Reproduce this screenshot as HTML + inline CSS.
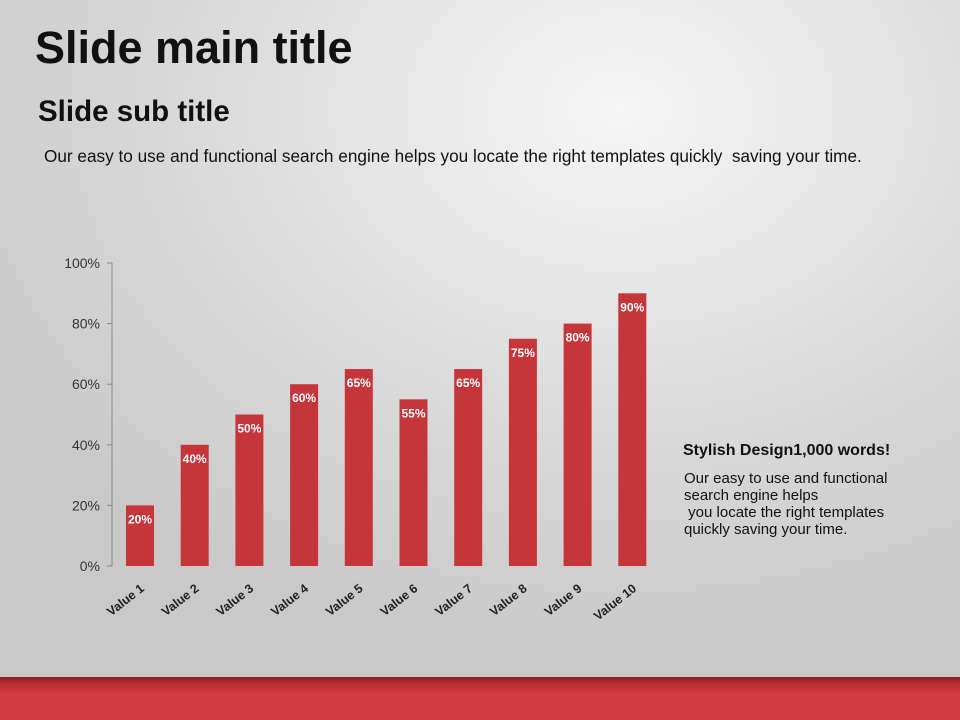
<!DOCTYPE html>
<html><head><meta charset="utf-8"><style>
body{margin:0;width:960px;height:720px;overflow:hidden;font-family:"Liberation Sans",sans-serif;}
#slide{position:relative;width:960px;height:720px;background:radial-gradient(ellipse 720px 540px at 620px 110px,#f6f6f6 0%,#dedede 50%,#c9c9c9 100%);}
.t{position:absolute;color:#111;white-space:nowrap;}
#band{position:absolute;left:0;top:677px;width:960px;height:43px;background:linear-gradient(#8a1e22 0px,#b8292e 6px,#d23b3f 16px,#d33d41 100%);}
</style></head><body>
<div id="slide">
<div class="t" style="left:35px;top:22px;font-size:45px;font-weight:bold;">Slide main title</div>
<div class="t" style="left:38px;top:95px;font-size:29.5px;font-weight:bold;">Slide sub title</div>
<div class="t" style="left:44px;top:146px;font-size:17.2px;">Our easy to use and functional search engine helps you locate the right templates quickly&nbsp; saving your time.</div>
<div class="t" style="left:683px;top:442px;font-size:16px;font-weight:bold;">Stylish Design1,000 words!</div>
<div class="t" style="left:684px;top:470px;font-size:15px;line-height:17px;">Our easy to use and functional<br>search engine helps<br>&nbsp;you locate the right templates<br>quickly saving your time.</div>
<svg id="chart" width="960" height="720" style="position:absolute;left:0;top:0"></svg>
<div id="band"></div>
</div>
<script>
const categories=["Value 1","Value 2","Value 3","Value 4","Value 5","Value 6","Value 7","Value 8","Value 9","Value 10"];
const values=[20,40,50,60,65,55,65,75,80,90];
const ticks=[0,20,40,60,80,100];
const NS="http://www.w3.org/2000/svg";
const svg=document.getElementById('chart');
const y0=566,y1=263,x0=112,step=54.7,first=140,bw=28;
const y=v=>y0-(v/100)*(y0-y1);
const x=i=>first+i*step;
function mk(t,a){const e=document.createElementNS(NS,t);for(const k in a)e.setAttribute(k,a[k]);svg.appendChild(e);return e;}
const ax=mk('line',{x1:x0,y1:y1,x2:x0,y2:y0,stroke:'#888','stroke-width':1});


ticks.forEach(v=>{
 const tk=mk('line',{x1:x0-5,y1:y(v),x2:x0,y2:y(v),stroke:'#888'});
 
 
 const t=mk('text',{x:x0-12,y:y(v)+5,'text-anchor':'end','font-size':14,fill:'#333','font-family':'Liberation Sans, sans-serif'});
 t.textContent=v+'%';
 
 
});
values.forEach((v,i)=>{
 const r=mk('rect',{x:x(i)-bw/2,y:y(v),width:bw,height:y0-y(v),fill:'#c5353a'});
 
 
 const t=mk('text',{x:x(i),y:y(v)+18,'text-anchor':'middle','font-size':12,'font-weight':'bold',fill:'#fff','font-family':'Liberation Sans, sans-serif'});
 t.textContent=v+'%';
 
 
 const c=mk('text',{x:x(i)+5,y:y0+24,'text-anchor':'end','font-size':12.5,'font-weight':'bold',fill:'#222','font-family':'Liberation Sans, sans-serif',transform:`rotate(-38 ${x(i)+5} ${y0+24})`});
 c.textContent=categories[i];
 
 
});
</script>
</body></html>
